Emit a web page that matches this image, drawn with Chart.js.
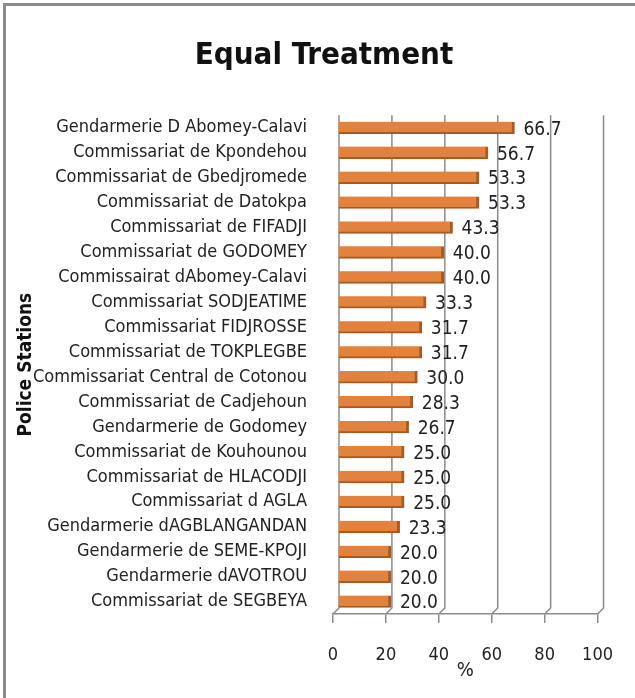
<!DOCTYPE html>
<html>
<head>
<meta charset="utf-8">
<script src="https://cdn.jsdelivr.net/npm/chart.js@4"></script>
<style>
  html, body { margin: 0; padding: 0; background: #fff; overflow: hidden; }
  #wrap { position: relative; width: 635px; height: 698px; }
  #frame {
    position: absolute; left: 3px; top: 3px; width: 700px; height: 760px;
    border-left: 3px solid #8c8c8c; border-top: 3px solid #8c8c8c;
    pointer-events: none;
  }
</style>
</head>
<body>
<div id="wrap">
  <canvas id="chart" width="635" height="698"></canvas>
  <div id="frame"></div>
</div>
<script>
// Police stations, top to bottom
const stations = [
    'Gendarmerie D Abomey-Calavi',
    'Commissariat de Kpondehou',
    'Commissariat de Gbedjromede',
    'Commissariat de Datokpa',
    'Commissariat de FIFADJI',
    'Commissariat de GODOMEY',
    'Commissairat dAbomey-Calavi',
    'Commissariat SODJEATIME',
    'Commissariat FIDJROSSE',
    'Commissariat de TOKPLEGBE',
    'Commissariat Central de Cotonou',
    'Commissariat de Cadjehoun',
    'Gendarmerie de Godomey',
    'Commissariat de Kouhounou',
    'Commissariat de HLACODJI',
    'Commissariat d AGLA',
    'Gendarmerie dAGBLANGANDAN',
    'Gendarmerie de SEME-KPOJI',
    'Gendarmerie dAVOTROU',
    'Commissariat de SEGBEYA'
];

// Equal treatment (%)
const equalTreatment = [66.7, 56.7, 53.3, 53.3, 43.3, 40.0, 40.0, 33.3, 31.7, 31.7,
                        30.0, 28.3, 26.7, 25.0, 25.0, 25.0, 23.3, 20.0, 20.0, 20.0];

// x axis ticks
const xTicks = [0, 20, 40, 60, 80, 100];

const narrow = "'Liberation Sans Narrow', 'DejaVu Sans Condensed', sans-serif";
const depth = 6;    // fake 3D wall offset
const barShift = 5; // bars sit against the back wall

// back wall + floor, drawn from the x scale
const wallPlugin = {
    id: 'wall',
    afterLayout(chart) {
        // the title in the original sits a bit right of the canvas centre
        chart.titleBlock.left = 13;
        chart.titleBlock.right = 635;
    },
    beforeDatasetsDraw(chart) {
        const { ctx, chartArea, scales } = chart;
        const xs = scales.x;
        const bottom = chartArea.bottom;
        ctx.save();
        ctx.strokeStyle = '#8c8c8c';
        ctx.lineWidth = 1.5;
        xTicks.forEach(v => {
            const px = xs.getPixelForValue(v);
            ctx.beginPath();
            ctx.moveTo(px + depth, chartArea.top);
            ctx.lineTo(px + depth, bottom - depth);
            ctx.lineTo(px, bottom);
            ctx.stroke();
        });
        ctx.restore();
    },
    beforeDatasetDraw(chart) {
        chart.ctx.save();
        chart.ctx.translate(barShift, 0);
    },
    afterDatasetDraw(chart) {
        chart.ctx.restore();
    }
};

// value labels to the right of each bar
const valuePlugin = {
    id: 'values',
    afterDatasetsDraw(chart) {
        const { ctx } = chart;
        const meta = chart.getDatasetMeta(0);
        ctx.save();
        ctx.font = '19px ' + narrow;
        ctx.fillStyle = '#222';
        ctx.textAlign = 'left';
        ctx.textBaseline = 'middle';
        meta.data.forEach((bar, i) => {
            ctx.fillText(equalTreatment[i].toFixed(1), bar.x + barShift + 9, bar.y + 2);
        });
        ctx.restore();
    }
};

new Chart(document.getElementById('chart').getContext('2d'), {
    type: 'bar',
    data: {
        labels: stations,
        datasets: [{
            label: 'Equal Treatment',
            data: equalTreatment,
            backgroundColor: '#e3823c',
            borderColor: '#a95a1c',
            borderWidth: { top: 0, right: 3, bottom: 2, left: 0 },
            borderSkipped: false,
            barThickness: 12
        }]
    },
    options: {
        indexAxis: 'y',
        responsive: false,
        animation: false,
        layout: { padding: { left: 15, right: 32, top: 0, bottom: 0 } },
        scales: {
            x: {
                min: 0,
                max: 100,
                afterBuildTicks: s => { s.ticks = xTicks.map(v => ({ value: v })); },
                afterFit: s => { s.height = 698 - 614; },
                grid: { drawOnChartArea: false, drawTicks: true, tickLength: 9, color: '#8c8c8c', lineWidth: 1.5 },
                border: { display: true, color: '#8c8c8c', width: 1.5 },
                ticks: { color: '#222', padding: 22, font: { family: narrow, size: 18 } },
                title: {
                    display: true,
                    text: '%',
                    color: '#222',
                    font: { family: narrow, size: 20 },
                    padding: { top: 0, bottom: 15 }
                }
            },
            y: {
                afterFit: s => { s.width = 333 - 15; },
                grid: { display: false },
                border: { display: false },
                ticks: { color: '#222', padding: 18, autoSkip: false, font: { family: narrow, size: 18 } },
                title: {
                    display: true,
                    text: 'Police Stations',
                    color: '#111',
                    font: { family: narrow, size: 19, weight: 'bold' },
                    padding: 0
                }
            }
        },
        plugins: {
            legend: { display: false },
            tooltip: { enabled: false },
            title: {
                display: true,
                text: 'Equal Treatment',
                color: '#111',
                font: { family: narrow, size: 31, weight: 'bold' },
                padding: { top: 37, bottom: 41 }
            }
        }
    },
    plugins: [wallPlugin, valuePlugin]
});
</script>
</body>
</html>
